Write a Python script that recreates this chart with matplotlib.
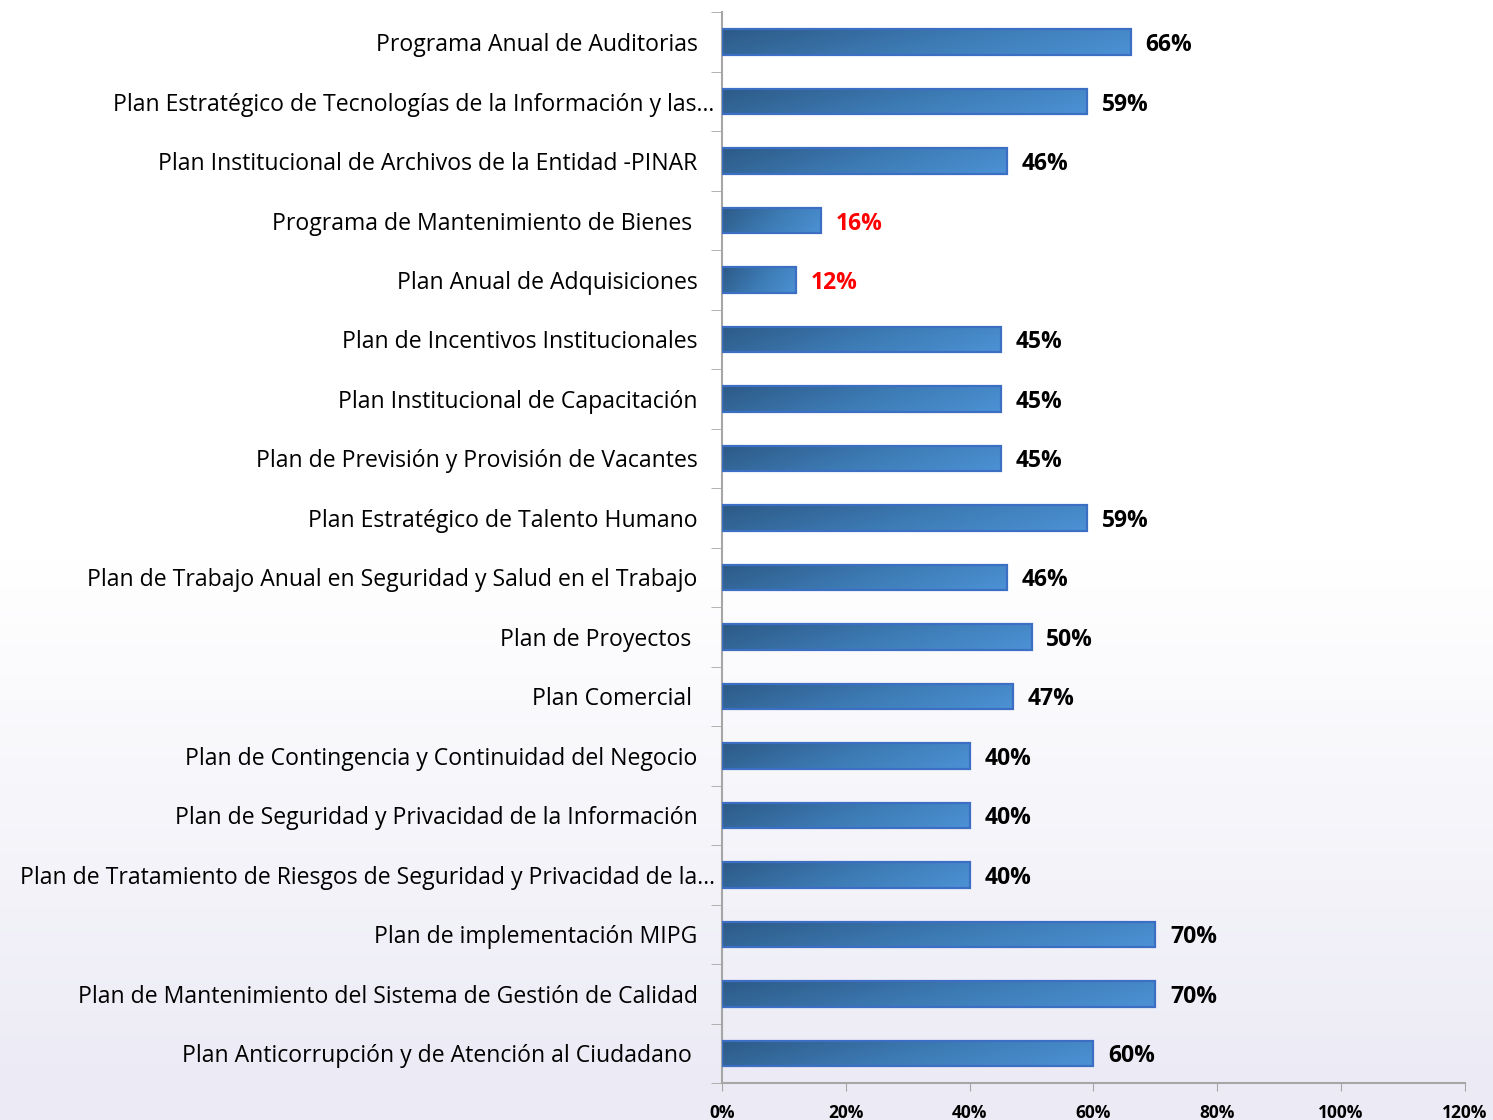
import matplotlib
matplotlib.use("Agg")
import matplotlib.pyplot as plt
import matplotlib.transforms as mtransforms
import numpy as np
from matplotlib.colors import LinearSegmentedColormap
from matplotlib.ticker import FixedLocator, PercentFormatter

plt.rcParams["font.family"] = ["Open Sans", "DejaVu Sans"]

# ── data (top to bottom as in the chart) ──────────────────────────────────────
categories = [
    "Programa Anual de Auditorias",
    "Plan Estratégico de Tecnologías de la Información y las…",
    "Plan Institucional de Archivos de la Entidad -PINAR",
    "Programa de Mantenimiento de Bienes ",
    "Plan Anual de Adquisiciones",
    "Plan de Incentivos Institucionales",
    "Plan Institucional de Capacitación",
    "Plan de Previsión y Provisión de Vacantes",
    "Plan Estratégico de Talento Humano",
    "Plan de Trabajo Anual en Seguridad y Salud en el Trabajo",
    "Plan de Proyectos ",
    "Plan Comercial ",
    "Plan de Contingencia y Continuidad del Negocio",
    "Plan de Seguridad y Privacidad de la Información",
    "Plan de Tratamiento de Riesgos de Seguridad y Privacidad de la…",
    "Plan de implementación MIPG",
    "Plan de Mantenimiento del Sistema de Gestión de Calidad",
    "Plan Anticorrupción y de Atención al Ciudadano ",
]
values = [66, 59, 46, 16, 12, 45, 45, 45, 59, 46, 50, 47, 40, 40, 40, 70, 70, 60]
x_ticks = [0, 20, 40, 60, 80, 100, 120]
low_threshold = 20   # values below this get red labels

# ── figure ────────────────────────────────────────────────────────────────────
fig = plt.figure(figsize=(14.93, 11.2), dpi=100)

# background gradient: white top → pale lavender bottom
bg = fig.add_axes([0, 0, 1, 1], zorder=-10)
bg_cmap = LinearSegmentedColormap.from_list("bg", ["#ffffff", "#ffffff", "#ebeaf5"])
bg.imshow(np.linspace(0, 1, 256)[:, None], aspect="auto", cmap=bg_cmap,
          extent=[0, 1, 0, 1], origin="upper")
bg.axis("off")

ax = fig.add_axes([0.4836, 0.033, 0.4976, 0.956])
ax.patch.set_alpha(0)

n = len(categories)
y = np.arange(n)[::-1]
bars = ax.barh(y, values, height=0.43, color="none",
               edgecolor="#3c6fc4", linewidth=1.6, zorder=3)

# horizontal gradient inside each bar (dark steel blue → lighter blue)
bar_cmap = LinearSegmentedColormap.from_list("bar", ["#2d5a87", "#3c7ab3", "#4c92d5"])
grad = np.linspace(0, 1, 256)[None, :]
vgrad = np.linspace(0.0, 1.0, 32)[:, None]
for b in bars:
    x0, y0 = b.get_x(), b.get_y()
    w, h = b.get_width(), b.get_height()
    im = ax.imshow(grad * 0.8 + (1 - vgrad) * 0.2, aspect="auto", cmap=bar_cmap,
                   extent=[x0, x0 + w, y0, y0 + h], origin="lower", zorder=2)
    im.set_clip_path(b)

for b, v in zip(bars, values):
    ax.text(b.get_width() + 2.4, b.get_y() + b.get_height() / 2, f"{v}%",
            va="center_baseline", ha="left", fontsize=16.5, fontweight="bold",
            color="#ff0000" if v < low_threshold else "#000000")

ax.set_xlim(0, 120)
ax.set_ylim(-0.5, n - 0.5)
ax.xaxis.set_major_locator(FixedLocator(x_ticks))
ax.xaxis.set_major_formatter(PercentFormatter(decimals=0))
for t in ax.get_xticklabels():
    t.set_fontweight("bold")
ax.tick_params(axis="x", labelsize=12.5, length=6, color="#a6a6a6", pad=9)

# category labels at bar centres, tick marks on the boundaries
ax.set_yticks(y)
ax.set_yticklabels(categories, fontsize=16.6)
ax.tick_params(axis="y", length=0, pad=17.5)
ax.set_yticks(np.arange(-0.5, n, 1), minor=True)
ax.tick_params(axis="y", which="minor", length=8, color="#a6a6a6")

# truncated labels sit a bit closer to the axis, as in the original
shift = mtransforms.ScaledTranslation(0.17, 0, fig.dpi_scale_trans)
for t in ax.get_yticklabels():
    if t.get_text().endswith("…"):
        t.set_transform(t.get_transform() + shift)

for side in ("top", "right"):
    ax.spines[side].set_visible(False)
for side in ("left", "bottom"):
    ax.spines[side].set_color("#a6a6a6")
    ax.spines[side].set_linewidth(1.5)

fig.savefig("out.png", dpi=100)
